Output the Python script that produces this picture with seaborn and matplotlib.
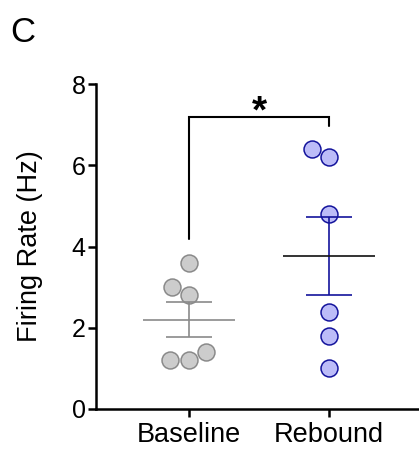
import numpy as np
import pandas as pd
import matplotlib
matplotlib.use("Agg")
import matplotlib.pyplot as plt
import seaborn as sns

sns.set_style("ticks")
plt.rcParams['font.family'] = ['Liberation Sans', 'DejaVu Sans']
plt.rcParams['text.color'] = 'black'
plt.rcParams['axes.labelcolor'] = 'black'
plt.rcParams['xtick.color'] = 'black'
plt.rcParams['ytick.color'] = 'black'
plt.rcParams['axes.edgecolor'] = 'black'

categories = ["Baseline", "Rebound"]
baseline = [3.0, 3.6, 2.8, 1.2, 1.4, 1.2]
rebound = [6.2, 6.4, 4.8, 2.4, 1.8, 1.0]
yticks = [0, 2, 4, 6, 8]

fill_colors = {"Baseline": "#cccccc", "Rebound": "#bcbcf8"}
edge_colors = {"Baseline": "#8a8a8a", "Rebound": "#14149c"}
sem_colors = {"Baseline": "#8a8a8a", "Rebound": "#14149c"}
mean_colors = {"Baseline": "#8a8a8a", "Rebound": "#111111"}

df = pd.DataFrame({
    "group": ["Baseline"] * len(baseline) + ["Rebound"] * len(rebound),
    "rate": baseline + rebound,
})

fig = plt.figure(figsize=(4.19, 4.51), dpi=100)
ax = fig.add_axes([96 / 419, 1 - 409 / 451, (419 - 96) / 419, (409 - 84) / 451])

for g in categories:
    sub = df[df.group == g]
    sns.swarmplot(data=sub, x="group", y="rate", order=categories, ax=ax,
                  color=fill_colors[g], edgecolor=edge_colors[g], linewidth=1.1,
                  size=12.2, zorder=3)

for i, g in enumerate(categories):
    vals = np.array(df[df.group == g].rate)
    m = vals.mean()
    sem = vals.std(ddof=1) / np.sqrt(len(vals))
    ax.errorbar([i], [m], yerr=[sem], fmt="none", ecolor=sem_colors[g],
                elinewidth=1.2, capsize=16.5, capthick=1.2, zorder=4)
    ax.hlines(m, i - 0.33, i + 0.33, color=mean_colors[g], lw=1.2, zorder=4)

# significance bracket
ax.plot([0, 0, 1, 1], [4.18, 7.19, 7.19, 6.97], color="black", lw=1.5,
        solid_joinstyle="miter", clip_on=False)
ax.text(0.5, 7.06, "*", ha="center", va="baseline", fontsize=28, fontweight="bold")

ax.set_xlim(-0.664, 1.643)
ax.set_ylim(0, 8)
ax.set_yticks(yticks)
ax.set_yticklabels([str(t) for t in yticks])
ax.set_xlabel("")
ax.set_ylabel("Firing Rate (Hz)", fontsize=19.5)
ax.yaxis.set_label_coords(-0.164, 0.5)

for s in ["top", "right"]:
    ax.spines[s].set_visible(False)
for s in ["left", "bottom"]:
    ax.spines[s].set_linewidth(1.8)
ax.tick_params(axis="y", labelsize=18, width=1.8, length=6, pad=1.5)
ax.tick_params(axis="x", labelsize=19.5, width=1.8, length=6, pad=3)

fig.text(10 / 419, 1 - 16 / 451, "C", ha="left", va="top", fontsize=25)

fig.savefig("out.png", dpi=100)
